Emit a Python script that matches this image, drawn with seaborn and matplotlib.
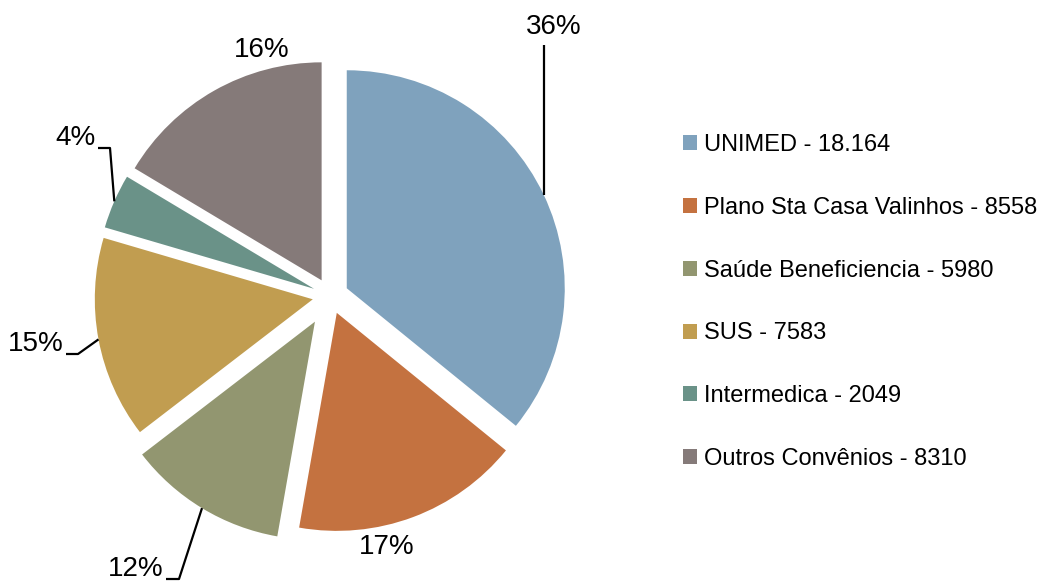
import matplotlib
matplotlib.use("Agg")
import matplotlib.pyplot as plt
import numpy as np
import seaborn as sns

# ---- data ----
categories = ["UNIMED - 18.164", "Plano Sta Casa Valinhos - 8558",
              "Saúde Beneficiencia - 5980", "SUS - 7583",
              "Intermedica - 2049", "Outros Convênios - 8310"]
values = [18164, 8558, 5980, 7583, 2049, 8310]
colors = ["#7FA2BD", "#C47240", "#929670", "#C19D50", "#6A9288", "#857A79"]

# ---- style ----
sns.set_theme(style="white")
plt.rcParams["font.family"] = ["Liberation Sans", "DejaVu Sans"]

W, H = 1055, 584
fig = plt.figure(figsize=(W / 100, H / 100), dpi=100)
ax = fig.add_axes([0, 0, 1, 1])

radius = 218
center = (330.5, H - 296)
explode_px = [18, 18, 30, 18, 18, 18]
wedges, _ = ax.pie(values, colors=colors, startangle=90, counterclock=False,
                   radius=radius, center=center,
                   explode=explode_px,
                   wedgeprops=dict(linewidth=0))
ax.set_xlim(0, W)
ax.set_ylim(0, H)
ax.set_aspect("equal")
ax.axis("off")

total = sum(values)
pct = [f"{round(v / total * 100)}%" for v in values]

# label layout (pixel coords, y down) and leader elbows
lab_pos = [(554, 27), (387, 547), (136, 569), (36, 344), (75, 138), (262, 50)]
leaders = [[(543.5, 45)], None, [(166, 579), (179, 579)], [(66, 354), (78, 354)],
           [(98, 148), (110, 148)], None]
for w, p, (lx, ly), ld in zip(wedges, pct, lab_pos, leaders):
    ax.text(lx, H - ly, p, ha="center", va="center", fontsize=20, color="black")
    if ld is not None:
        th = np.deg2rad((w.theta1 + w.theta2) / 2)
        cx, cy = w.center
        anchor = (cx + w.r * np.cos(th), cy + w.r * np.sin(th))
        if len(ld) == 1:
            pts = [(anchor[0], H - ld[0][1]), anchor]
        else:
            pts = [(x, H - y) for x, y in ld] + [anchor]
        xs, ys = zip(*pts)
        ax.plot(xs, ys, color="black", lw=1.6, solid_capstyle="butt")

leg = ax.legend(wedges, categories, loc="center left",
                bbox_to_anchor=(683 / W, (H - 302) / H),
                frameon=False, fontsize=17,
                handlelength=0.6, handleheight=0.6, handletextpad=0.28,
                labelspacing=1.73, borderpad=0, borderaxespad=0)
for t in leg.get_texts():
    t.set_color("black")

fig.savefig("out.png", dpi=100)
